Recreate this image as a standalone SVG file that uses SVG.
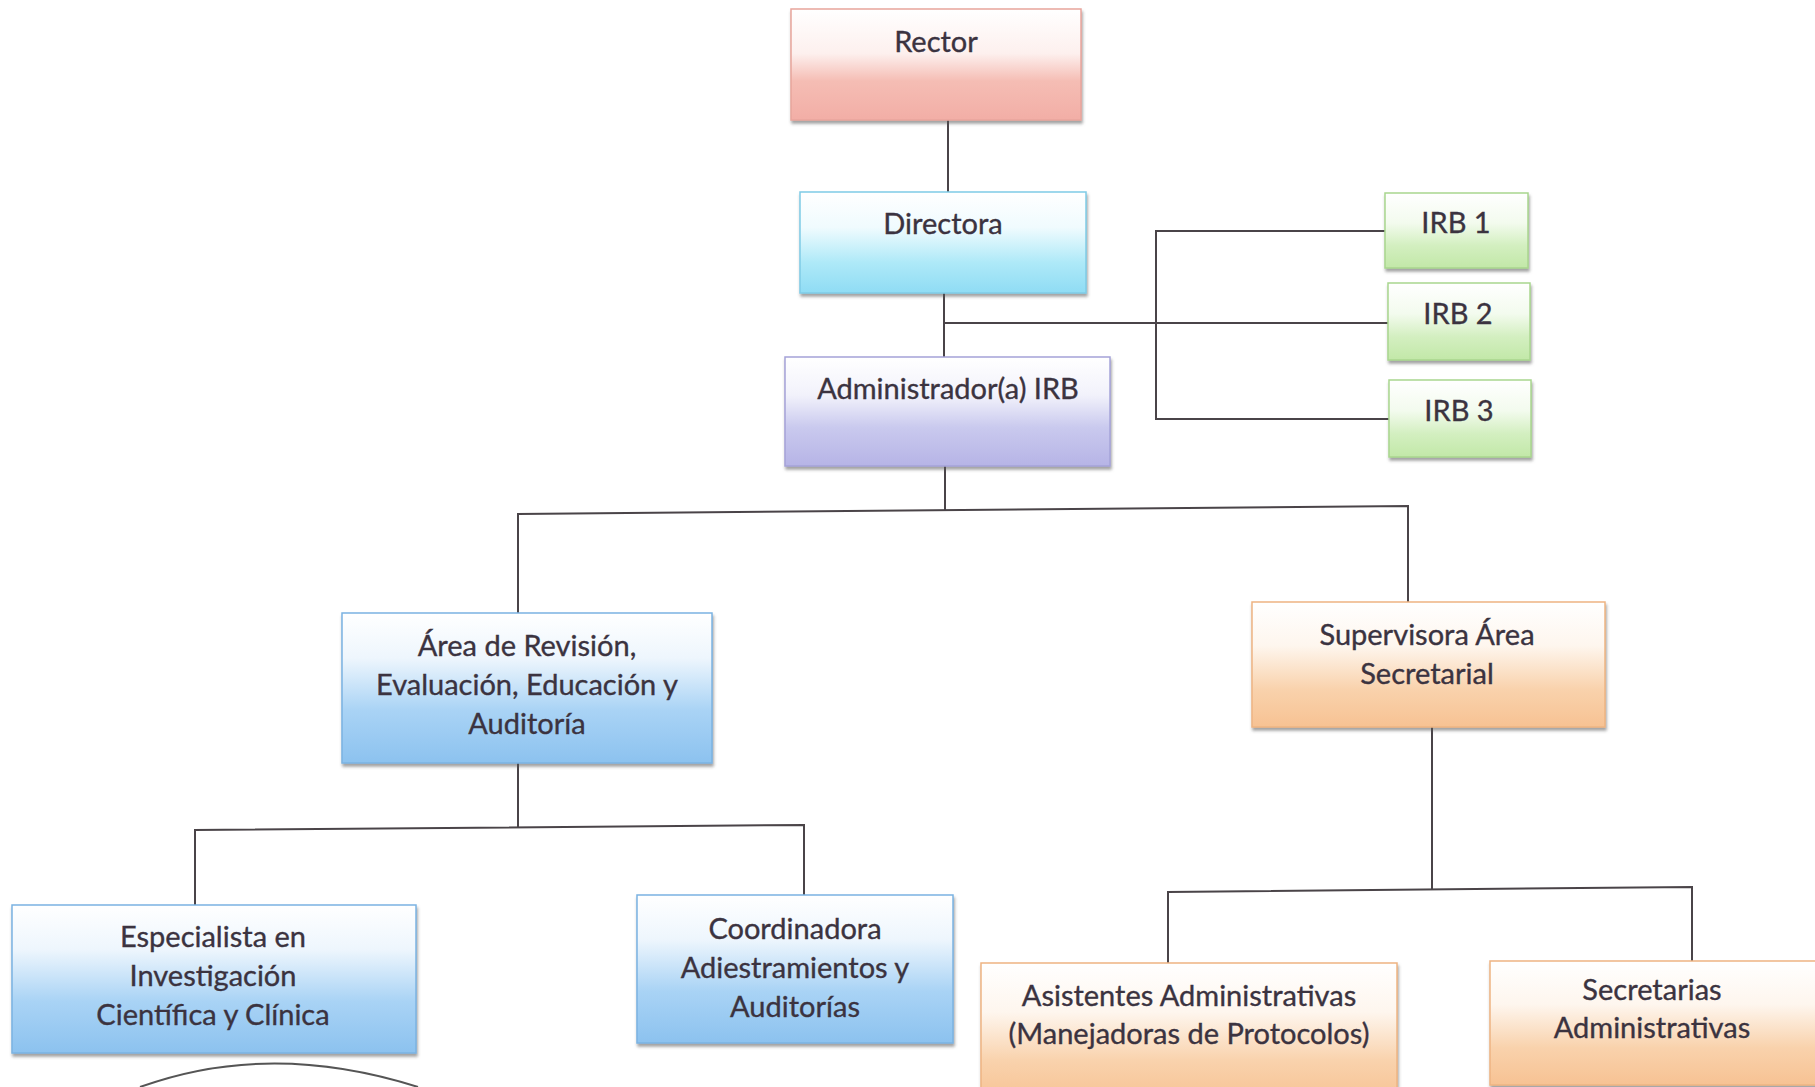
<svg xmlns="http://www.w3.org/2000/svg" width="1815" height="1087" viewBox="0 0 1815 1087">
<defs>
<linearGradient id="gRed" x1="0" y1="0" x2="0" y2="1"><stop offset="0" stop-color="#ffffff"/><stop offset="0.4" stop-color="#fdf0ee"/><stop offset="0.65" stop-color="#f5bdb4"/><stop offset="1" stop-color="#f2aea6"/></linearGradient>
<linearGradient id="gCyan" x1="0" y1="0" x2="0" y2="1"><stop offset="0" stop-color="#ffffff"/><stop offset="0.35" stop-color="#f0fbfe"/><stop offset="0.7" stop-color="#aee9f8"/><stop offset="1" stop-color="#8fdcf4"/></linearGradient>
<linearGradient id="gLav" x1="0" y1="0" x2="0" y2="1"><stop offset="0" stop-color="#ffffff"/><stop offset="0.35" stop-color="#f2f2fb"/><stop offset="0.65" stop-color="#c9c9ee"/><stop offset="1" stop-color="#b6b4e6"/></linearGradient>
<linearGradient id="gGreen" x1="0" y1="0" x2="0" y2="1"><stop offset="0" stop-color="#ffffff"/><stop offset="0.4" stop-color="#f3fbee"/><stop offset="0.7" stop-color="#d3efc0"/><stop offset="1" stop-color="#c2e8a8"/></linearGradient>
<linearGradient id="gBlue" x1="0" y1="0" x2="0" y2="1"><stop offset="0" stop-color="#ffffff"/><stop offset="0.3" stop-color="#eef6fd"/><stop offset="0.65" stop-color="#a9d3f5"/><stop offset="1" stop-color="#8cc2ef"/></linearGradient>
<linearGradient id="gOrange" x1="0" y1="0" x2="0" y2="1"><stop offset="0" stop-color="#ffffff"/><stop offset="0.35" stop-color="#fef6ee"/><stop offset="0.7" stop-color="#f9d2ac"/><stop offset="1" stop-color="#f7c293"/></linearGradient>
<filter id="sh" x="-5%" y="-10%" width="110%" height="125%"><feDropShadow dx="1" dy="3" stdDeviation="1.5" flood-color="#555" flood-opacity="0.55"/></filter>
</defs>
<style>
.box{stroke-width:1.5;filter:url(#sh)}
.red{fill:url(#gRed);stroke:#e8a59c}
.cyan{fill:url(#gCyan);stroke:#7fcbe6}
.lav{fill:url(#gLav);stroke:#a5a3d8}
.green{fill:url(#gGreen);stroke:#a9d68e}
.blue{fill:url(#gBlue);stroke:#7bb3e2}
.orange{fill:url(#gOrange);stroke:#eeb482}
text{font-family:Lato,"Liberation Sans",sans-serif;font-size:29px;fill:#3b3340;stroke:#3b3340;stroke-width:0.35;text-anchor:middle}
.con{fill:none;stroke:#4a4448;stroke-width:2}
</style>
<rect width="1815" height="1087" fill="#ffffff"/>
<g id="connectors">
<path class="con" d="M948 120 V192"/>
<path class="con" d="M944 293 V357"/>
<path class="con" d="M944 323 H1388"/>
<path class="con" d="M1385 231 H1156 V419 H1389"/>
<path class="con" d="M945 466 V511"/>
<path class="con" d="M518 613 V514 L1408 506 V602"/>
<path class="con" d="M518 763 V828"/>
<path class="con" d="M195 905 V830 L804 825 V895"/>
<path class="con" d="M1432 727 V889"/>
<path class="con" d="M1168 963 V892 L1692 887 V961"/>
</g>
<g id="rector"><rect class="box red" x="791" y="9" width="290" height="111"/><text x="936" y="52">Rector</text></g>
<g id="directora"><rect class="box cyan" x="800" y="192" width="286" height="101"/><text x="943" y="234">Directora</text></g>
<g id="administrador"><rect class="box lav" x="785" y="357" width="325" height="109"/><text x="948" y="399">Administrador(a) IRB</text></g>
<g id="irb1"><rect class="box green" x="1385" y="193" width="143" height="75"/><text x="1456" y="233">IRB 1</text></g>
<g id="irb2"><rect class="box green" x="1388" y="283" width="142" height="77"/><text x="1458" y="324">IRB 2</text></g>
<g id="irb3"><rect class="box green" x="1389" y="380" width="142" height="77"/><text x="1459" y="421">IRB 3</text></g>
<g id="area"><rect class="box blue" x="342" y="613" width="370" height="150"/><text x="527" y="656">Área de Revisión,</text><text x="527" y="695">Evaluación, Educación y</text><text x="527" y="734">Auditoría</text></g>
<g id="supervisora"><rect class="box orange" x="1252" y="602" width="353" height="125"/><text x="1427" y="645">Supervisora Área</text><text x="1427" y="684">Secretarial</text></g>
<g id="especialista"><rect class="box blue" x="12" y="905" width="404" height="148"/><text x="213" y="947">Especialista en</text><text x="213" y="986">Investigación</text><text x="213" y="1025">Científica y Clínica</text></g>
<g id="coordinadora"><rect class="box blue" x="637" y="895" width="316" height="148"/><text x="795" y="939">Coordinadora</text><text x="795" y="978">Adiestramientos y</text><text x="795" y="1017">Auditorías</text></g>
<g id="asistentes"><rect class="box orange" x="981" y="963" width="416" height="140"/><text x="1189" y="1006">Asistentes Administrativas</text><text x="1189" y="1044">(Manejadoras de Protocolos)</text></g>
<g id="secretarias"><rect class="box orange" x="1490" y="961" width="340" height="124"/><text x="1652" y="1000">Secretarias</text><text x="1652" y="1038">Administrativas</text></g>
<path d="M140 1087 Q270 1040 418 1087" fill="none" stroke="#555" stroke-width="2"/>
</svg>
